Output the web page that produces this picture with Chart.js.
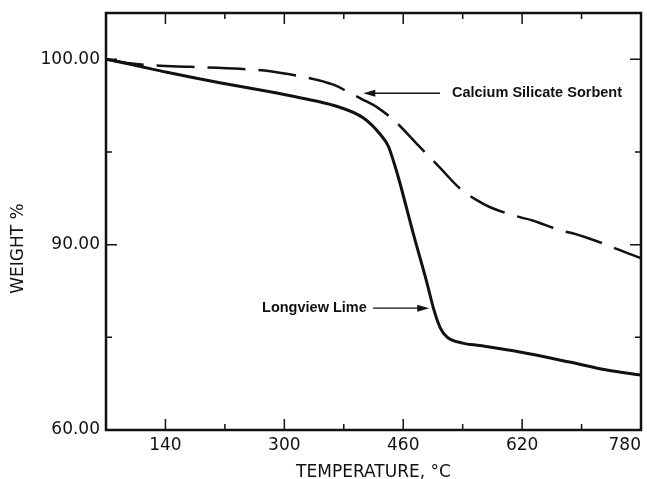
<!DOCTYPE html>
<html>
<head>
<meta charset="utf-8">
<title>Weight % vs temperature</title>
<script src="https://cdn.jsdelivr.net/npm/chart.js@4.4.1/dist/chart.umd.min.js"></script>
<style>
  html, body { margin: 0; padding: 0; background: #fff; }
  #wrap { width: 647px; height: 479px; position: relative; }
</style>
</head>
<body>
<div id="wrap"><canvas id="tga"></canvas></div>
<script>
// Longview Lime (solid curve), temperature in °C and weight on the axis' own scale
const limeTemp   = [60, 96, 142, 213, 277, 321, 368, 406, 429, 440, 449, 456, 473, 492, 501, 510, 519, 540, 563, 617, 684, 734, 780];
const limeWeight = [100, 99.41, 98.6, 97.47, 96.55, 95.85, 94.99, 93.69, 91.91, 90.62, 88.46, 86.52, 81.35, 75.85, 73.05, 71.0, 70.03, 69.38, 69.11, 68.41, 67.33, 66.47, 65.93];

// Calcium Silicate Sorbent (dashed curve)
const sorbTemp   = [60, 92, 123, 173, 240, 281, 321, 341, 370, 384, 405, 425, 449, 480, 510, 536, 559, 577, 617, 633, 675, 688, 728, 738, 776, 780];
const sorbWeight = [100, 99.57, 99.35, 99.19, 98.98, 98.71, 98.17, 97.84, 97.14, 96.55, 95.69, 94.82, 93.32, 90.73, 88.25, 86.09, 84.8, 84.04, 82.97, 82.64, 81.46, 81.24, 80.16, 79.84, 78.65, 78.55];

// tick marks and their printed labels (the middle mark is printed "90.00" on the original)
const tempTicks    = [60, 140, 220, 300, 380, 460, 540, 620, 700, 780];
const tempLabels   = ['', '140', '', '300', '', '460', '', '620', '', '780'];
const weightTicks  = [60, 70, 80, 90, 100];
const weightLabels = ['60.00', '', '90.00', '', '100.00'];

const INK = '#111';

function pairs(xs, ys) {
  return xs.map(function(x, i) { return { x: x, y: ys[i] }; });
}

function setTicks(values) {
  return function(scale) {
    scale.ticks = values.map(function(v) { return { value: v }; });
  };
}

// annotations: label + arrow, anchored in data units
const notes = [
  { text: 'Calcium Silicate Sorbent', at: [525.6, 96.34], from: [509.5, 96.34], to: [406.3, 96.34] },
  { text: 'Longview Lime', at: [270, 73.15], from: [419.3, 73.15], to: [495, 73.15] }
];

const frameAndTicks = {
  id: 'frameAndTicks',
  afterDraw: function(chart) {
    var ctx = chart.ctx, a = chart.chartArea, xs = chart.scales.x, ys = chart.scales.y;
    ctx.save();
    ctx.strokeStyle = INK;
    ctx.lineCap = 'butt';
    ctx.lineWidth = 1.5;
    tempTicks.forEach(function(v, i) {
      if (v === xs.min || v === xs.max) return;
      var px = xs.getPixelForValue(v);
      var len = tempLabels[i] ? 11 : 6;
      ctx.beginPath();
      ctx.moveTo(px, a.bottom); ctx.lineTo(px, a.bottom - len);
      ctx.moveTo(px, a.top); ctx.lineTo(px, a.top + len);
      ctx.stroke();
    });
    weightTicks.forEach(function(v, i) {
      if (v === ys.min) return;
      var py = ys.getPixelForValue(v);
      var len = weightLabels[i] ? 11 : 6;
      ctx.beginPath();
      ctx.moveTo(a.left, py); ctx.lineTo(a.left + len, py);
      ctx.moveTo(a.right, py); ctx.lineTo(a.right - len, py);
      ctx.stroke();
    });
    ctx.lineWidth = 2.5;
    ctx.strokeRect(a.left, a.top, a.right - a.left, a.bottom - a.top);

    // labels and arrows
    ctx.fillStyle = INK;
    ctx.font = 'bold 14.5px "Liberation Sans", Arial, sans-serif';
    ctx.textBaseline = 'middle';
    ctx.textAlign = 'left';
    notes.forEach(function(n) {
      ctx.fillText(n.text, xs.getPixelForValue(n.at[0]), ys.getPixelForValue(n.at[1]));
      var x1 = xs.getPixelForValue(n.from[0]), y1 = ys.getPixelForValue(n.from[1]);
      var x2 = xs.getPixelForValue(n.to[0]), y2 = ys.getPixelForValue(n.to[1]);
      var dir = x2 > x1 ? 1 : -1;
      ctx.lineWidth = 1.3;
      ctx.beginPath();
      ctx.moveTo(x1, y1); ctx.lineTo(x2 - dir * 8, y2);
      ctx.stroke();
      ctx.beginPath();
      ctx.moveTo(x2, y2);
      ctx.lineTo(x2 - dir * 12, y2 - 3.5);
      ctx.lineTo(x2 - dir * 12, y2 + 3.5);
      ctx.closePath();
      ctx.fill();
    });
    ctx.restore();
  }
};

const tickFont = { family: '"DejaVu Sans", sans-serif', size: 17 };

new Chart(document.getElementById('tga'), {
  type: 'line',
  data: {
    datasets: [
      {
        label: 'Longview Lime',
        data: pairs(limeTemp, limeWeight),
        borderColor: INK,
        borderWidth: 3,
        pointRadius: 0,
        fill: false,
        cubicInterpolationMode: 'monotone'
      },
      {
        label: 'Calcium Silicate Sorbent',
        data: pairs(sorbTemp, sorbWeight),
        borderColor: INK,
        borderWidth: 2.5,
        borderDash: [38, 13],
        pointRadius: 0,
        fill: false,
        cubicInterpolationMode: 'monotone'
      }
    ]
  },
  options: {
    responsive: true,
    maintainAspectRatio: false,
    animation: false,
    layout: { padding: { top: 13, right: 6, left: 0, bottom: 0 } },
    plugins: { legend: { display: false }, tooltip: { enabled: false } },
    scales: {
      x: {
        type: 'linear',
        position: 'bottom',
        min: 60,
        max: 780,
        grid: { display: false, drawTicks: false },
        border: { display: false },
        afterBuildTicks: setTicks(tempTicks),
        afterFit: function(s) { s.height = 49; s.paddingLeft = 0; s.paddingRight = 0; },
        ticks: {
          align: 'inner',
          padding: 5,
          color: INK,
          font: tickFont,
          maxRotation: 0,
          autoSkip: false,
          callback: function(v) { return tempLabels[tempTicks.indexOf(v)]; }
        },
        title: {
          display: true,
          text: 'TEMPERATURE, °C',
          color: INK,
          font: { family: '"DejaVu Sans", sans-serif', size: 17, lineHeight: 1 },
          padding: { top: 0, bottom: -2 }
        }
      },
      y: {
        type: 'linear',
        position: 'left',
        min: 60,
        max: 105,
        grid: { display: false, drawTicks: false },
        border: { display: false },
        afterBuildTicks: setTicks(weightTicks),
        afterFit: function(s) { s.width = 106; s.paddingTop = 0; s.paddingBottom = 0; },
        ticks: {
          padding: 6,
          color: INK,
          font: tickFont,
          autoSkip: false,
          callback: function(v) { return weightLabels[weightTicks.indexOf(v)]; }
        },
        title: {
          display: true,
          text: 'WEIGHT %          ',
          color: INK,
          font: { family: '"DejaVu Sans", sans-serif', size: 17 },
          padding: { top: 8, bottom: 0 }
        }
      }
    }
  },
  plugins: [frameAndTicks]
});
</script>
</body>
</html>
